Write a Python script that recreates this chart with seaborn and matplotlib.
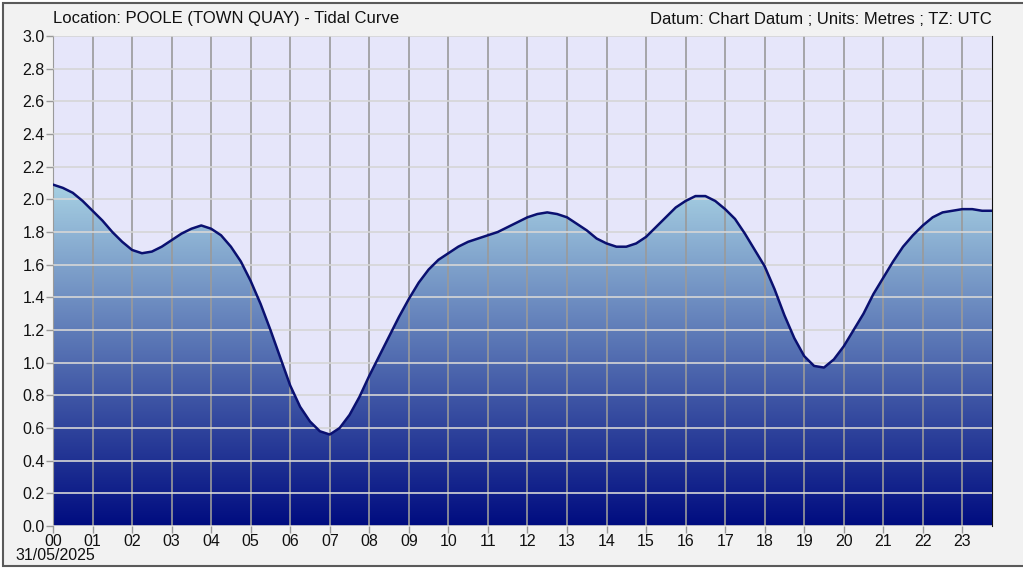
import numpy as np
import pandas as pd
import matplotlib
matplotlib.use("Agg")
import matplotlib.pyplot as plt
import seaborn as sns
from matplotlib.patches import Rectangle
from matplotlib.colors import LinearSegmentedColormap

# tidal height (m) every 15 minutes, 00:00 -> 23:45
hours = [i * 0.25 for i in range(96)]
height = [2.09, 2.07, 2.04, 1.99, 1.93, 1.87, 1.80, 1.74,
          1.69, 1.67, 1.68, 1.71, 1.75, 1.79, 1.82, 1.84,
          1.82, 1.78, 1.71, 1.62, 1.50, 1.36, 1.20, 1.03,
          0.86, 0.73, 0.64, 0.58, 0.56, 0.60, 0.68, 0.79,
          0.92, 1.04, 1.16, 1.28, 1.39, 1.49, 1.57, 1.63,
          1.67, 1.71, 1.74, 1.76, 1.78, 1.80, 1.83, 1.86,
          1.89, 1.91, 1.92, 1.91, 1.89, 1.85, 1.81, 1.76,
          1.73, 1.71, 1.71, 1.73, 1.77, 1.83, 1.89, 1.95,
          1.99, 2.02, 2.02, 1.99, 1.94, 1.88, 1.79, 1.69,
          1.59, 1.45, 1.29, 1.15, 1.04, 0.98, 0.97, 1.02,
          1.10, 1.20, 1.30, 1.42, 1.52, 1.62, 1.71, 1.78,
          1.84, 1.89, 1.92, 1.93, 1.94, 1.94, 1.93, 1.93]
hour_labels = ["%02d" % h for h in range(24)]
y_ticks = [round(v * 0.2, 1) for v in range(16)]

df = pd.DataFrame({"hour": hours, "height": height})

sns.set_style("white")
plt.rcParams["font.family"] = ["Liberation Sans", "DejaVu Sans"]

fig = plt.figure(figsize=(10.23, 5.76), dpi=100, facecolor="white")
fig.patches.append(Rectangle((3 / 1023, 10 / 576), 1.0, 563 / 576,
                             transform=fig.transFigure, facecolor="#f2f2f2",
                             edgecolor="#5a5a5a", linewidth=1.5, zorder=-10))

ax = fig.add_axes([53 / 1023, 1 - 526 / 576, (992 - 53) / 1023, (526 - 36) / 576])
ax.set_facecolor("#e6e6fa")
xmax = hours[-1]

# gradient fill under the curve
cmap = LinearSegmentedColormap.from_list("tide", ["#000c80", "#a9d3e4"])
poly = ax.fill_between(df["hour"], df["height"], 0, color="none", zorder=1)
grad = np.linspace(0, 1, 256).reshape(-1, 1)
img = ax.imshow(grad, cmap=cmap, origin="lower", aspect="auto",
                extent=[0, xmax, 0, 2.12], zorder=1)
img.set_clip_path(poly.get_paths()[0], transform=ax.transData)

sns.lineplot(data=df, x="hour", y="height", color="#0a1070", linewidth=1.8,
             ax=ax, zorder=3)

ax.set_xlim(0, xmax)
ax.set_ylim(0, 3.0)
ax.set_xticks(range(24))
ax.set_xticklabels(hour_labels)
ax.set_yticks(y_ticks)
ax.set_yticklabels(["%.1f" % v for v in y_ticks])
ax.set_xlabel("")
ax.set_ylabel("")

ax.set_axisbelow(False)
ax.xaxis.grid(True, color="#9a9a9a", linewidth=1.2, zorder=2)
ax.yaxis.grid(True, color="#d6d6d6", linewidth=1.2, zorder=2)
ax.tick_params(axis="both", which="both", length=5, width=1, color="#9a9a9a",
               labelsize=11.5, pad=1, labelcolor="#111111")
ax.tick_params(axis="x", bottom=True)
ax.tick_params(axis="y", left=True)

for s in ["top", "bottom"]:
    ax.spines[s].set_visible(False)
ax.spines["left"].set_color("#9a9a9a")
ax.spines["right"].set_color("#111111")
ax.spines["right"].set_zorder(0.5)

fig.text(53 / 1023, 1 - 19 / 576, "Location: POOLE (TOWN QUAY) - Tidal Curve",
         ha="left", va="center", fontsize=12, color="#111111")
fig.text(992 / 1023, 1 - 19 / 576, "Datum: Chart Datum ; Units: Metres ; TZ: UTC",
         ha="right", va="center", fontsize=12, color="#111111")
fig.text(15 / 1023, 1 - 556 / 576, "31/05/2025", ha="left", va="center",
         fontsize=11.5, color="#111111")

fig.savefig("out.png", dpi=100, facecolor=fig.get_facecolor())
